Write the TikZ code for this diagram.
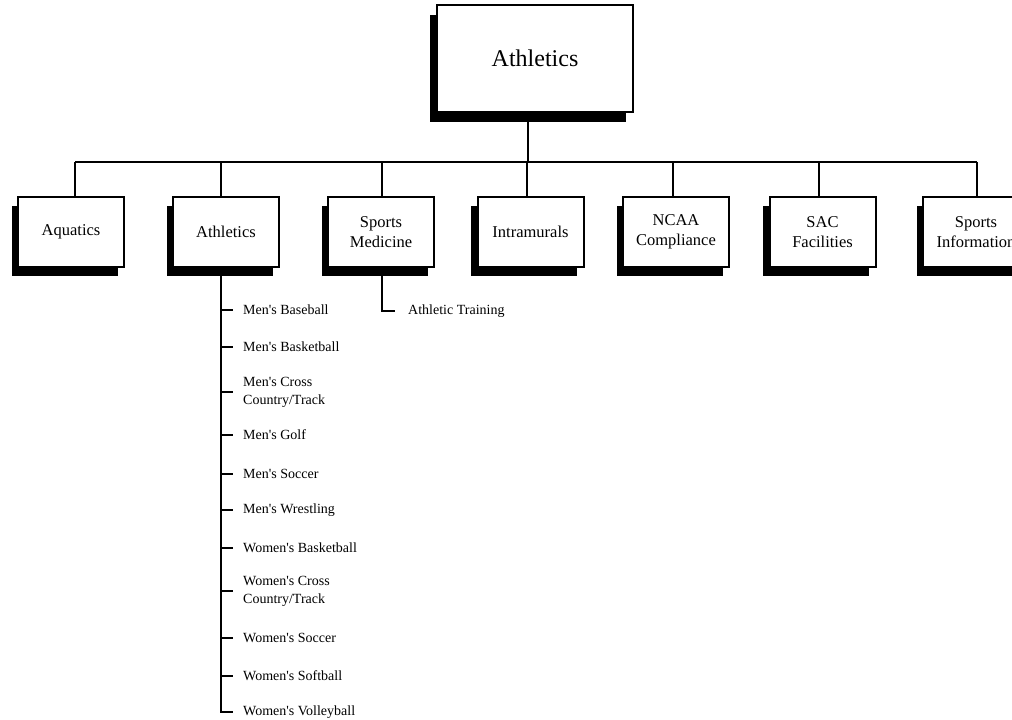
\documentclass[tikz,border=0pt]{standalone}
\usepackage{fontspec}
\setmainfont{Liberation Serif}
\usetikzlibrary{shadows}
\newcommand\ap{\textquotesingle}
\begin{document}
\begin{tikzpicture}[x=1pt,y=-1pt,
  conn/.style={line width=2pt},
  topbox/.style={draw, line width=2pt, fill=white, minimum width=196pt, minimum height=107pt,
    font=\fontsize{24}{28}\selectfont, inner sep=0pt,
    general shadow={fill=black, shadow xshift=-7pt, shadow yshift=-10pt}},
  unitbox/.style={draw, line width=2pt, fill=white, minimum width=106pt, minimum height=70pt,
    font=\fontsize{16.5}{20}\selectfont, align=center, inner sep=0pt,
    general shadow={fill=black, shadow xshift=-6.5pt, shadow yshift=-9pt}},
  item/.style={anchor=west, font=\fontsize{14}{18}\selectfont, align=left, inner sep=0pt}
]
\useasboundingbox (0,0) rectangle (1012,720);

% top box
\node[topbox] (top) at (535,58.5) {Athletics};

% second level
\node[unitbox] (aq) at (71,232) {Aquatics};
\node[unitbox] (ath) at (226,232) {Athletics};
\node[unitbox] (sm) at (381,232) {Sports\\Medicine};
\node[unitbox] (intra) at (530.5,232) {Intramurals};
\node[unitbox] (ncaa) at (676,232) {NCAA\\Compliance};
\node[unitbox] (sac) at (822.5,232) {SAC\\Facilities};
\node[unitbox] (si) at (976,232) {Sports\\Information};

% bus
\coordinate (bL) at (75,162);
\coordinate (bR) at (977,162);
\draw[conn] ([xshift=-7pt]top.south) -- ([xshift=-7pt]top.south |- bL);
\draw[conn] (bL) -- (bR);
\draw[conn] (bL) -- (bL |- aq.north);
\draw[conn] ([xshift=-5pt]ath.north |- bL) -- ([xshift=-5pt]ath.north);
\draw[conn] ([xshift=1pt]sm.north |- bL) -- ([xshift=1pt]sm.north);
\draw[conn] ([xshift=-3.5pt]intra.north |- bL) -- ([xshift=-3.5pt]intra.north);
\draw[conn] ([xshift=-3pt]ncaa.north |- bL) -- ([xshift=-3pt]ncaa.north);
\draw[conn] ([xshift=-3.5pt]sac.north |- bL) -- ([xshift=-3.5pt]sac.north);
\draw[conn] (bR) -- (bR |- si.north);

% Sports Medicine child
\node[item] (at) at (408,311) {Athletic Training};
\draw[conn] ([xshift=1pt]sm.south) |- ([xshift=-13pt]at.west);

% Athletics children
\coordinate (sp) at ([xshift=-5pt]ath.south);
\node[item] (i1) at (243,310) {Men\ap s Baseball};
\node[item] (i2) at (243,347) {Men\ap s Basketball};
\node[item] (i3) at (243,392) {Men\ap s Cross\\Country/Track};
\node[item] (i4) at (243,435) {Men\ap s Golf};
\node[item] (i5) at (243,474) {Men\ap s Soccer};
\node[item] (i6) at (243,510) {Men\ap s Wrestling};
\node[item] (i7) at (243,548) {Women\ap s Basketball};
\node[item] (i8) at (243,591) {Women\ap s Cross\\Country/Track};
\node[item] (i9) at (243,638) {Women\ap s Soccer};
\node[item] (i10) at (243,676) {Women\ap s Softball};
\node[item] (i11) at (243,712) {Women\ap s Volleyball};

\draw[conn] (sp) |- ([xshift=-10pt]i11.west);
\foreach \i in {1,...,10}{
  \draw[conn] (sp |- i\i.west) -- ([xshift=-10pt]i\i.west);
}
\end{tikzpicture}
\end{document}
